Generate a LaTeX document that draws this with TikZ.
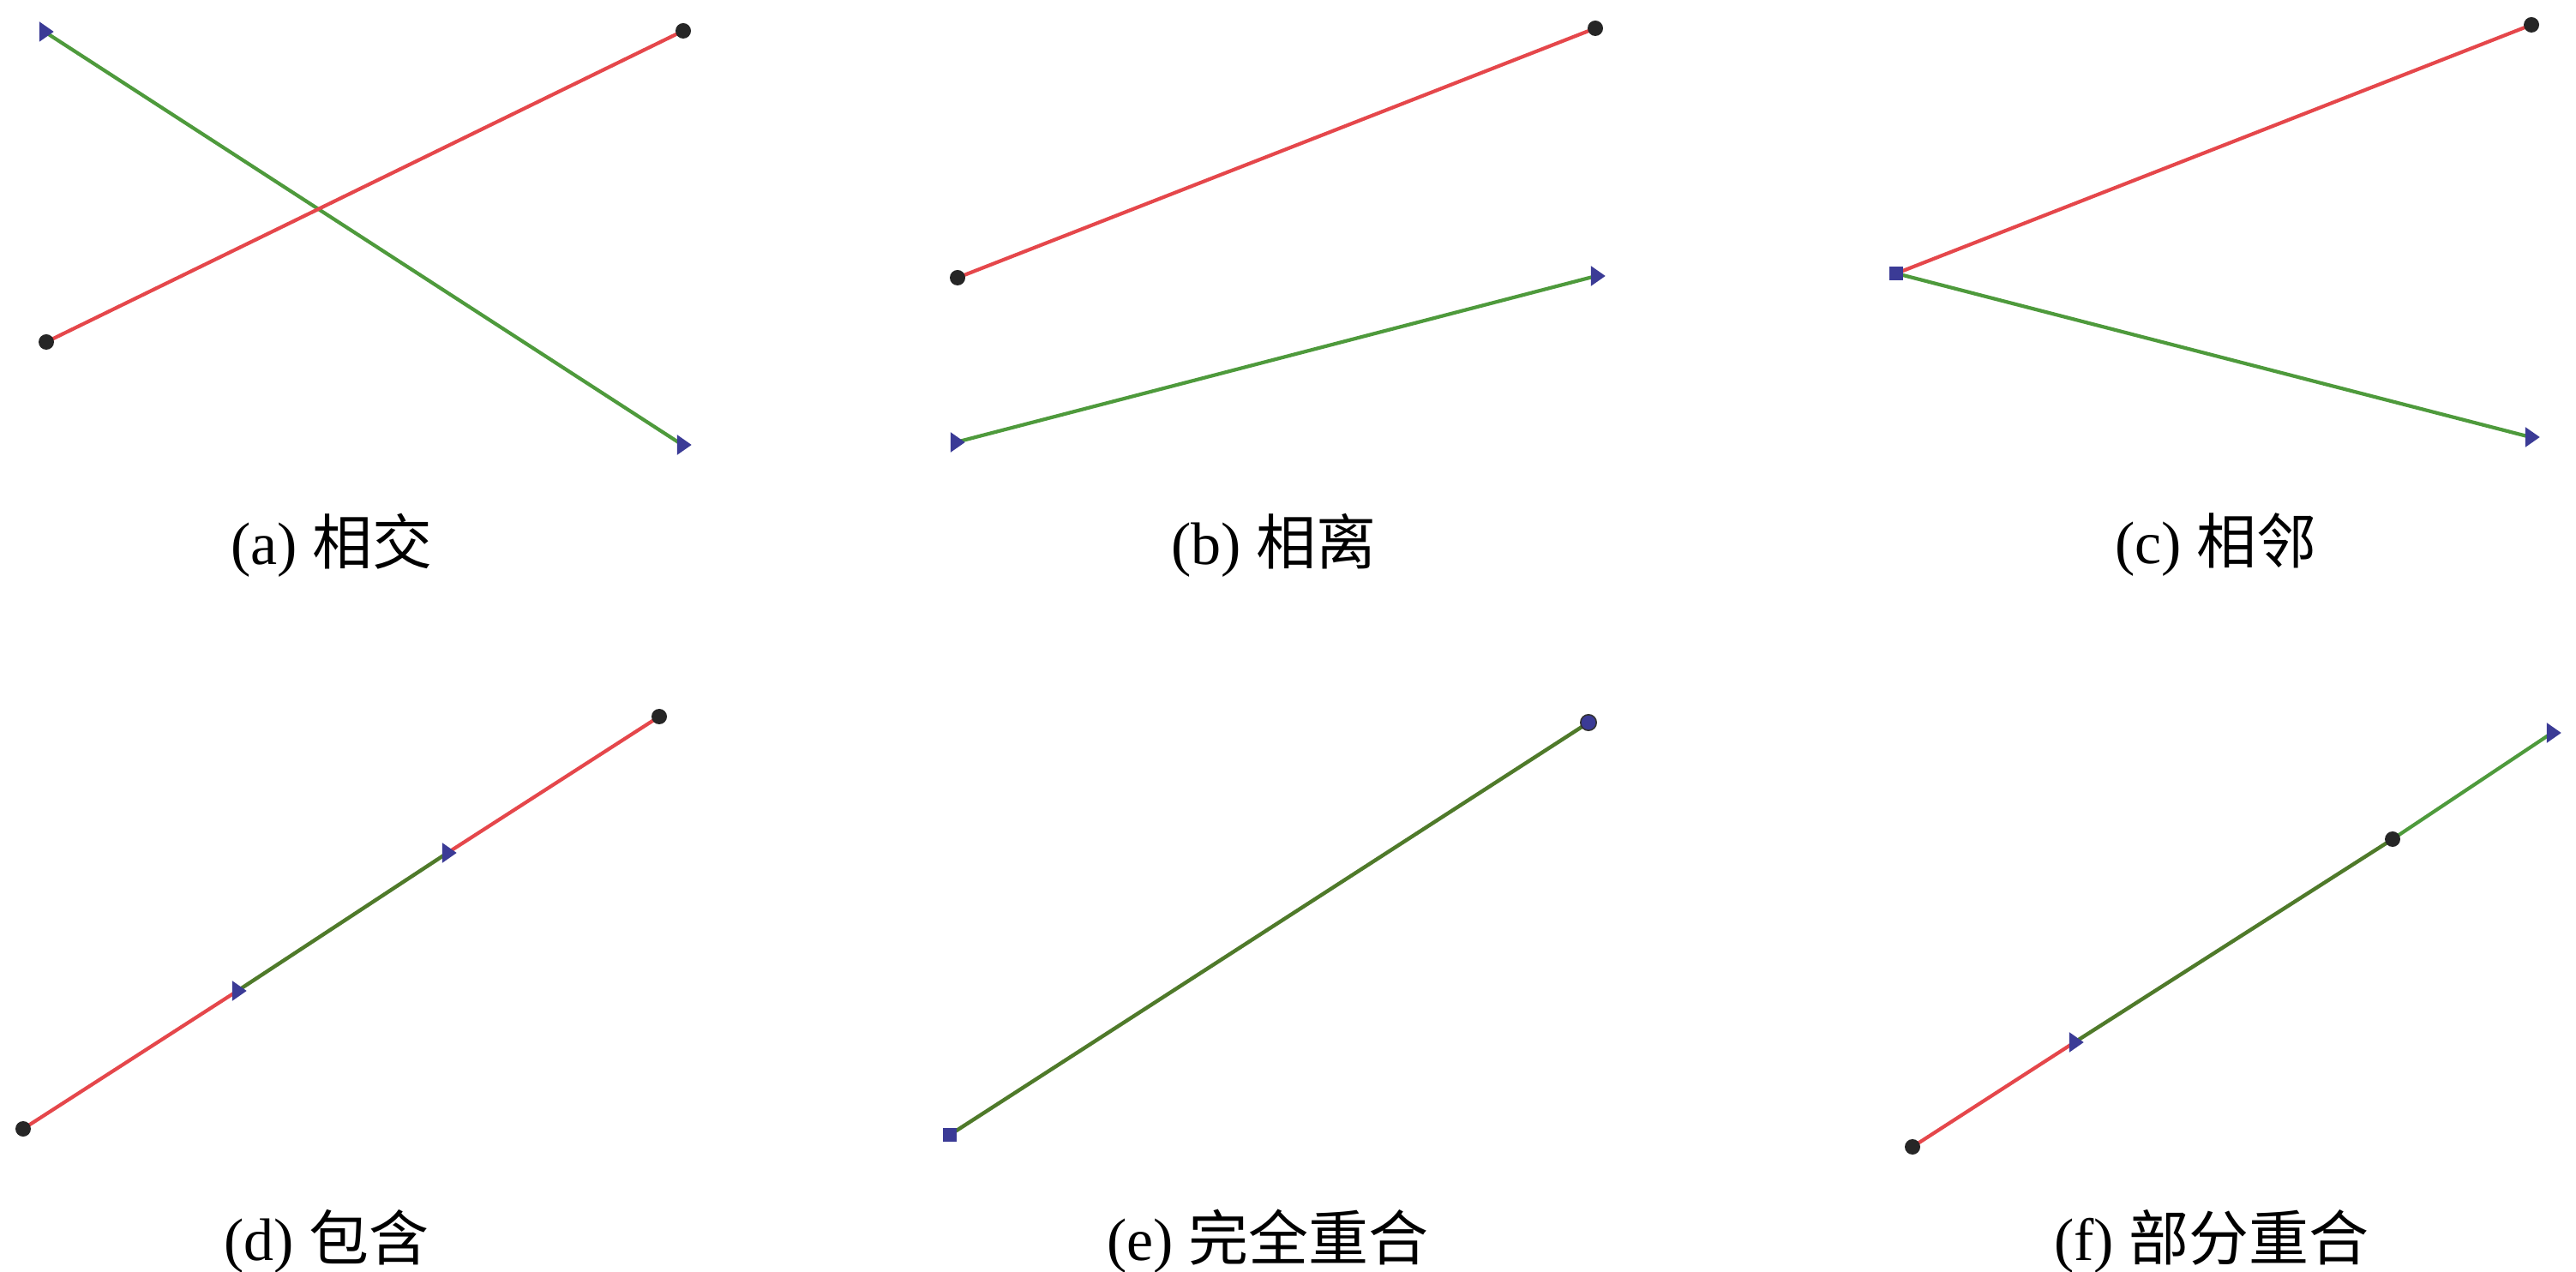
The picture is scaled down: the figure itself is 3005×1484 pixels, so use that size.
\documentclass[tikz,border=0pt]{standalone}
\usepackage{fontspec}
\setmainfont{Liberation Serif}
\newfontfamily\cjk{Noto Sans CJK SC}
\usetikzlibrary{shapes.geometric,backgrounds}
\definecolor{segred}{HTML}{E5474B}
\definecolor{seggreen}{HTML}{4E9A3C}
\definecolor{segolive}{HTML}{4F7A2A}
\definecolor{mkblue}{HTML}{3B3B96}
\tikzset{
  dotmk/.style={circle,fill=black!85,inner sep=0pt,minimum size=4.5pt},
  trimk/.style={isosceles triangle,isosceles triangle apex angle=70,fill=mkblue,inner sep=0pt,minimum width=4.6pt,minimum height=4.2pt},
  sqmk/.style={rectangle,fill=mkblue,inner sep=0pt,minimum size=4.2pt},
  sqdot/.style={circle,fill=mkblue,draw=black!80,line width=0.4pt,inner sep=0pt,minimum size=4.6pt},
  redseg/.style={draw=segred,line width=1.05pt},
  greenseg/.style={draw=seggreen,line width=1.05pt},
  oliveseg/.style={draw=segolive,line width=1.1pt},
  caption/.style={font=\fontsize{17.5}{20}\selectfont,inner sep=0pt,anchor=center}
}
\begin{document}
\begin{tikzpicture}[x=0.25pt,y=-0.25pt]
\useasboundingbox (0,0) rectangle (3005,1484);
% (a)
\node[trimk] (a1) at (52,37) {};
\node[trimk] (a2) at (796,519) {};
\node[dotmk] (a3) at (54,399) {};
\node[dotmk] (a4) at (797,36) {};
% (b)
\node[dotmk] (b1) at (1117,324) {};
\node[dotmk] (b2) at (1861,33) {};
\node[trimk] (b3) at (1115,516) {};
\node[trimk] (b4) at (1862,322) {};
% (c)
\node[sqmk] (c1) at (2212,319) {};
\node[dotmk] (c2) at (2953,29) {};
\node[trimk] (c3) at (2952,510) {};
% (d)
\node[dotmk] (d1) at (27,1317) {};
\node[dotmk] (d2) at (769,836) {};
\node[trimk] (d3) at (277,1156) {};
\node[trimk] (d4) at (522,995) {};
% (e)
\node[sqmk] (e1) at (1108,1324) {};
\node[sqdot] (e2) at (1853,843) {};
% (f)
\node[dotmk] (f1) at (2231,1338) {};
\node[trimk] (f2) at (2420,1216) {};
\node[dotmk] (f3) at (2791,979) {};
\node[trimk] (f4) at (2977,855) {};
\begin{pgfonlayer}{background}
\draw[greenseg] (a1.center) -- (a2.center);
\draw[redseg] (a3.center) -- (a4.center);
\draw[redseg] (b1.center) -- (b2.center);
\draw[greenseg] (b3.center) -- (b4.center);
\draw[redseg] (c1.center) -- (c2.center);
\draw[greenseg] (c1.center) -- (c3.center);
\draw[redseg] (d1.center) -- (d3.center);
\draw[oliveseg] (d3.center) -- (d4.center);
\draw[redseg] (d4.center) -- (d2.center);
\draw[oliveseg] (e1.center) -- (e2.center);
\draw[redseg] (f1.center) -- (f2.center);
\draw[oliveseg] (f2.center) -- (f3.center);
\draw[greenseg] (f3.center) -- (f4.center);
\end{pgfonlayer}
% captions
\node[caption] (la) at (387,636) {(a) {\cjk 相交}};
\node[caption] (lb) at (1486,636) {(b) {\cjk 相离}};
\node[caption] (lc) at (2585,636) {(c) {\cjk 相邻}};
\node[caption] (ld) at (381,1448) {(d) {\cjk 包含}};
\node[caption] (le) at (1479,1448) {(e) {\cjk 完全重合}};
\node[caption] (lf) at (2580,1448) {(f) {\cjk 部分重合}};
\end{tikzpicture}
\end{document}
